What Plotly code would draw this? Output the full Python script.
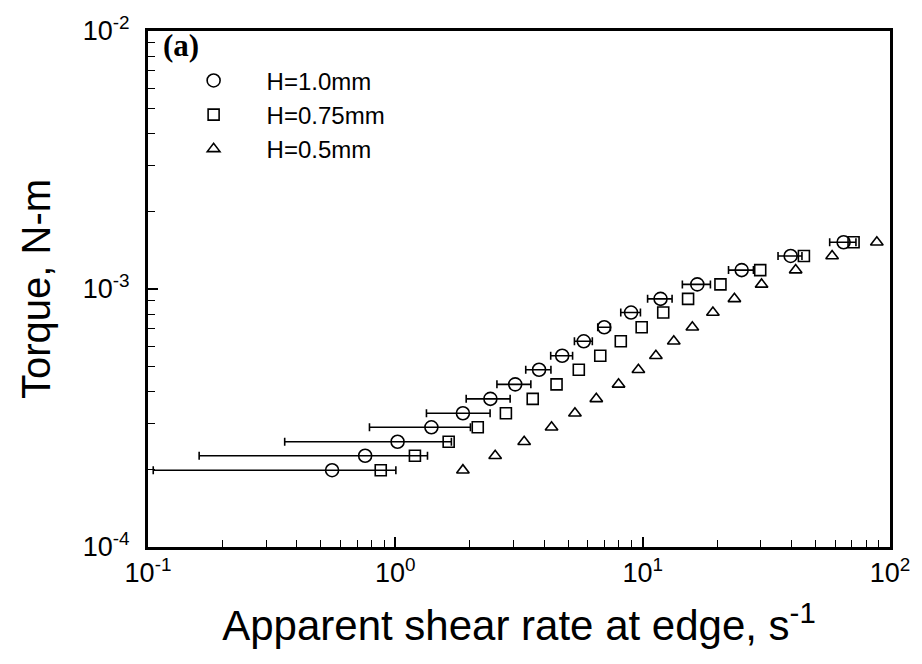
import plotly.graph_objects as go

# Torque levels (N-m), shared by all three gaps
torque = [1.985e-4, 2.258e-4, 2.559e-4, 2.910e-4, 3.299e-4, 3.752e-4, 4.270e-4,
          4.864e-4, 5.51e-4, 6.271e-4, 7.108e-4, 8.103e-4, 9.16e-4, 1.042e-3,
          1.184e-3, 1.343e-3, 1.518e-3]

# Apparent shear rate at edge (1/s)
rate_h100 = [0.555, 0.755, 1.021, 1.399, 1.876, 2.423, 3.053, 3.812, 4.728, 5.778,
             6.993, 8.975, 11.81, 16.63, 25.14, 39.66, 64.93]
err_h100 = [0.45, 0.594, 0.664, 0.613, 0.54, 0.489, 0.478, 0.445, 0.48, 0.48,
            0.41, 0.82, 1.34, 2.16, 2.9, 4.4, 7.9]
rate_h075 = [0.873, 1.200, 1.643, 2.154, 2.799, 3.593, 4.485, 5.518, 6.739, 8.157,
             9.908, 12.11, 15.26, 20.63, 29.87, 44.86, 71.23]
rate_h050 = [1.876, 2.533, 3.318, 4.282, 5.323, 6.494, 7.989, 9.61, 11.31, 13.36,
             15.88, 19.23, 23.49, 30.25, 41.55, 58.33, 88.46]

labels = ["H=1.0mm", "H=0.75mm", "H=0.5mm"]

x_tickvals = [0.1, 1, 10, 100]
x_ticktext = ["10<sup>-1</sup>", "10<sup>0</sup>", "10<sup>1</sup>", "10<sup>2</sup>"]
y_tickvals = [1e-4, 1e-3, 1e-2]
y_ticktext = ["10<sup>-4</sup>", "10<sup>-3</sup>", "10<sup>-2</sup>"]
x_minor = [round(m * d, 4) for d in [0.1, 1, 10] for m in range(2, 10)]
y_minor = [round(m * d, 8) for d in [1e-4, 1e-3] for m in range(2, 10)]

FONT = "Liberation Sans, Arial, sans-serif"

fig = go.Figure()
fig.add_trace(go.Scatter(
    x=rate_h100, y=torque, mode="markers", name=labels[0],
    marker=dict(symbol="circle-open", size=13, color="black", line=dict(width=1.6, color="black")),
    error_x=dict(type="data", array=err_h100, visible=True, color="black", thickness=1.6, width=4),
))
fig.add_trace(go.Scatter(
    x=rate_h075, y=torque, mode="markers", name=labels[1],
    marker=dict(symbol="square-open", size=11, color="black", line=dict(width=1.6, color="black")),
))
fig.add_trace(go.Scatter(
    x=rate_h050, y=torque, mode="markers", name=labels[2],
    marker=dict(symbol="triangle-up-open", size=11, color="black", line=dict(width=1.6, color="black")),
))

fig.update_xaxes(type="log", range=[-1, 2], tickmode="array", tickvals=x_tickvals, ticktext=x_ticktext,
                 showgrid=False, zeroline=False, showline=True, linecolor="black", linewidth=3,
                 mirror=True, ticks="inside", ticklen=10, tickwidth=1.6, tickcolor="black",
                 tickfont=dict(family=FONT, size=27, color="black"),
                 minor=dict(tickmode="array", tickvals=x_minor, ticks="inside", ticklen=7,
                            tickwidth=1.4, tickcolor="black", showgrid=False),
                 title=dict(text="Apparent shear rate at edge, s<sup>-1</sup>",
                            font=dict(family=FONT, size=42, color="black"), standoff=24))
fig.update_yaxes(type="log", range=[-4, -2], tickmode="array", tickvals=y_tickvals, ticktext=y_ticktext,
                 showgrid=False, zeroline=False, showline=True, linecolor="black", linewidth=3,
                 mirror=True, ticks="inside", ticklen=10, tickwidth=1.6, tickcolor="black",
                 tickfont=dict(family=FONT, size=27, color="black"),
                 minor=dict(tickmode="array", tickvals=y_minor, ticks="inside", ticklen=7,
                            tickwidth=1.4, tickcolor="black", showgrid=False),
                 title=dict(text="Torque, N-m", font=dict(family=FONT, size=40, color="black"),
                            standoff=20),
                 ticklabelstandoff=10)

fig.add_annotation(text="<b>(a)</b>", xref="paper", yref="paper", x=0.018, y=0.972,
                   xanchor="left", yanchor="middle", showarrow=False,
                   font=dict(family="Liberation Serif, Times New Roman, serif", size=31, color="black"))

fig.update_layout(
    width=922, height=664,
    margin=dict(l=148, r=27, t=23, b=117),
    paper_bgcolor="white", plot_bgcolor="white",
    showlegend=True,
    legend=dict(x=0.017, y=0.947, xanchor="left", yanchor="top", bgcolor="rgba(0,0,0,0)",
                font=dict(family=FONT, size=24, color="black"), itemwidth=96,
                tracegroupgap=0, borderwidth=0),
)

fig.write_html("out.html")
